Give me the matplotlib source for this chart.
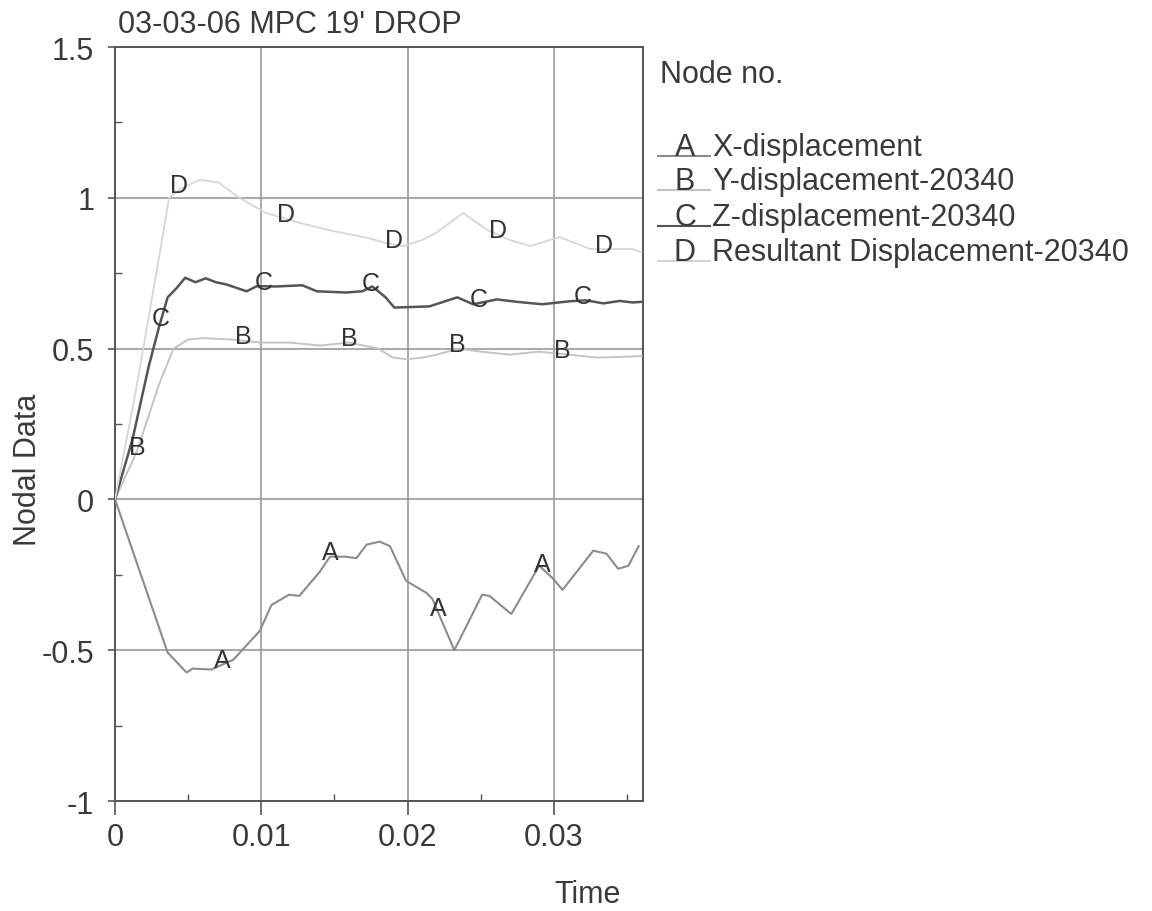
import numpy as np
import matplotlib
matplotlib.use("Agg")
import matplotlib.pyplot as plt
from matplotlib.lines import Line2D

plt.rcParams['font.family'] = ['Liberation Sans', 'DejaVu Sans']

# data
t_a = [0, 0.0036, 0.0049, 0.0053, 0.0066, 0.0081, 0.0099, 0.0107, 0.0119, 0.0126, 0.014, 0.0147,
       0.0158, 0.0165, 0.0172, 0.0181, 0.0188, 0.0199, 0.0213, 0.0217, 0.0232, 0.0251, 0.0256,
       0.0271, 0.029, 0.0299, 0.0306, 0.0327, 0.0336, 0.0344, 0.0351, 0.0358]
x_disp = [0, -0.508, -0.574, -0.561, -0.564, -0.531, -0.436, -0.35, -0.316, -0.32, -0.24, -0.19,
          -0.19, -0.195, -0.15, -0.14, -0.155, -0.27, -0.31, -0.33, -0.5, -0.316, -0.32,
          -0.38, -0.22, -0.26, -0.30, -0.17, -0.18, -0.23, -0.22, -0.155]

t_b = [0, 0.0015, 0.003, 0.004, 0.005, 0.006, 0.008, 0.010, 0.012, 0.014, 0.016, 0.018, 0.019,
       0.020, 0.021, 0.022, 0.0235, 0.025, 0.027, 0.029, 0.031, 0.033, 0.036]
y_disp = [0, 0.16, 0.38, 0.5, 0.53, 0.535, 0.53, 0.52, 0.52, 0.51, 0.52, 0.50, 0.47,
          0.465, 0.47, 0.48, 0.50, 0.49, 0.48, 0.49, 0.48, 0.47, 0.475]

t_c = [0, 0.0012, 0.0023, 0.003, 0.0036, 0.0042, 0.0048, 0.0055, 0.0062, 0.0069, 0.0076, 0.009,
       0.0097, 0.011, 0.0128, 0.0138, 0.0158, 0.0169, 0.0176, 0.0185, 0.0191, 0.0215, 0.0234,
       0.0245, 0.0261, 0.0275, 0.0292, 0.0311, 0.0322, 0.0334, 0.0345, 0.0354, 0.036]
z_disp = [0, 0.2, 0.44, 0.57, 0.67, 0.70, 0.735, 0.72, 0.733, 0.72, 0.713, 0.69,
          0.707, 0.706, 0.71, 0.69, 0.686, 0.69, 0.706, 0.67, 0.636, 0.64, 0.67,
          0.647, 0.663, 0.655, 0.647, 0.657, 0.66, 0.65, 0.658, 0.653, 0.655]

t_d = [0, 0.0015, 0.003, 0.0037, 0.0045, 0.0058, 0.0071, 0.0085, 0.0103, 0.0126, 0.0149, 0.0172,
       0.0185, 0.0197, 0.021, 0.022, 0.0238, 0.0254, 0.027, 0.0284, 0.0304, 0.0325, 0.0354, 0.036]
res_disp = [0, 0.38, 0.8, 1.0, 1.03, 1.06, 1.05, 1.0, 0.95, 0.917, 0.89, 0.868,
            0.85, 0.84, 0.86, 0.885, 0.95, 0.895, 0.86, 0.84, 0.87, 0.83, 0.83, 0.82]

# where the letter tags sit along each curve
tag_t_a = [0.0073, 0.0147, 0.0221, 0.0292]
tag_t_b = [0.0015, 0.0088, 0.016, 0.0234, 0.0306]
tag_t_c = [0.0031, 0.0102, 0.0175, 0.0249, 0.032]
tag_t_d = [0.0044, 0.0117, 0.0191, 0.0262, 0.0334]

letters = ['A', 'B', 'C', 'D']
names = ['X-displacement', 'Y-displacement-20340', 'Z-displacement-20340',
         'Resultant Displacement-20340']
colors = ['#8c8c8c', '#c4c4c4', '#555555', '#d6d6d6']
widths = [1.5, 1.4, 1.8, 1.3]

series = [(t_a, x_disp, tag_t_a), (t_b, y_disp, tag_t_b),
          (t_c, z_disp, tag_t_c), (t_d, res_disp, tag_t_d)]

W, H = 1152, 912
fig = plt.figure(figsize=(W / 100, H / 100), dpi=100)
ax = fig.add_axes([115 / W, 1 - 802 / H, (643 - 115) / W, (802 - 48) / H])

for i, (t, v, tags) in enumerate(series):
    ax.plot(t, v, color=colors[i], lw=widths[i], zorder=3)
    ty = np.interp(tags, t, v)
    for xx, yy in zip(tags, ty):
        ax.text(xx, yy + 0.015, letters[i], fontsize=18, color='#333333',
                ha='center', va='center', zorder=4)

ax.set_xlim(0, 0.0361)
ax.set_ylim(-1, 1.5)
ax.set_xticks([0, 0.01, 0.02, 0.03])
ax.set_xticklabels(['0', '0.01', '0.02', '0.03'])
ax.set_yticks([-1, -0.5, 0, 0.5, 1, 1.5])
ax.set_yticklabels(['-1', '-0.5', '0', '0.5', '1', '1.5'])
ax.set_xticks(np.arange(0.005, 0.036, 0.01), minor=True)
ax.set_yticks(np.arange(-0.75, 1.5, 0.5), minor=True)
ax.tick_params(axis='both', which='major', labelsize=22, colors='#555555',
               labelcolor='#3a3a3a', width=1.2)
ax.tick_params(axis='x', which='major', direction='out', length=10, pad=5)
ax.tick_params(axis='y', which='major', direction='out', length=5, pad=10)
ax.tick_params(which='minor', direction='in', length=5, width=1.0, colors='#555555')
ax.grid(True, which='major', color='#9a9a9a', lw=1.2)
ax.set_axisbelow(True)
for s in ax.spines.values():
    s.set_color('#555555')
    s.set_linewidth(1.4)

fig.text(118 / W, 1 - 33 / H, "03-03-06 MPC 19' DROP", fontsize=22, color='#3a3a3a',
         ha='left', va='baseline')
fig.text(28 / W, 1 - 470 / H, 'Nodal Data', fontsize=22, color='#3a3a3a',
         rotation=90, ha='center', va='center')
fig.text(588 / W, 1 - 895 / H, 'Time', fontsize=22, color='#3a3a3a',
         ha='center', va='center')

# legend block on the right
fig.text(660 / W, 1 - 75 / H, 'Node no.', fontsize=22, color='#3a3a3a',
         ha='left', va='center')
rows = [148, 182, 218, 253]
for i, ry in enumerate(rows):
    fig.add_artist(Line2D([658 / W, 710 / W], [1 - (ry + 9) / H] * 2,
                          color=colors[i], lw=1.5))
    fig.text(685 / W, 1 - ry / H, letters[i], fontsize=22, color='#3a3a3a',
             ha='center', va='center')
    fig.text(712 / W, 1 - ry / H, names[i], fontsize=22, color='#3a3a3a',
             ha='left', va='center')

fig.savefig('out.png', dpi=100, facecolor='white')
